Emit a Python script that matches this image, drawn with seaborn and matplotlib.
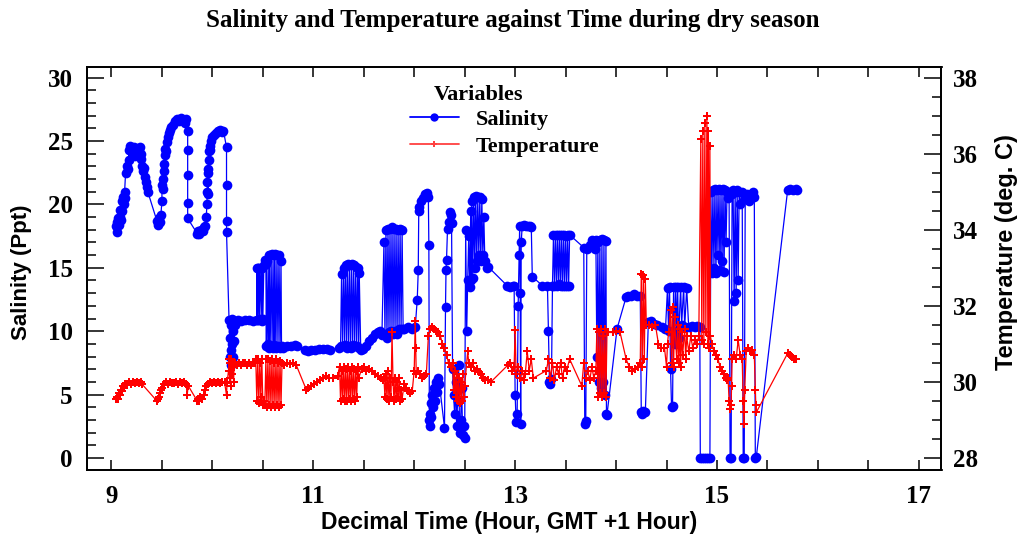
import matplotlib
matplotlib.use("Agg")
import matplotlib.pyplot as plt
import seaborn as sns
from matplotlib.lines import Line2D
from matplotlib.ticker import MultipleLocator

# ---------------- data ----------------
sal_time = [
    9.04, 9.05, 9.05, 9.06, 9.07, 9.08, 9.08, 9.09, 9.10, 9.10, 9.11, 9.12, 9.13, 9.13, 9.14, 9.15,
    9.16, 9.17, 9.17, 9.18, 9.19, 9.20, 9.21, 9.22, 9.23, 9.24, 9.25, 9.26, 9.27, 9.28, 9.29,
    9.29, 9.30, 9.31, 9.32, 9.33, 9.34, 9.35, 9.36, 9.45, 9.46, 9.47, 9.48,
    9.49, 9.50, 9.50, 9.51, 9.51, 9.52, 9.52, 9.53, 9.53, 9.54, 9.55, 9.56, 9.57, 9.58, 9.59, 9.61,
    9.63, 9.65, 9.67, 9.69, 9.71, 9.73, 9.74,
    9.755, 9.755, 9.755, 9.755, 9.755, 9.85, 9.86, 9.87, 9.89, 9.91, 9.92, 9.93,
    9.94, 9.945, 9.95, 9.95, 9.955, 9.96, 9.96, 9.965, 9.97, 9.975, 9.98, 9.99, 10.0, 10.02, 10.04,
    10.06, 10.08, 10.10, 10.11,
    10.14, 10.14, 10.14, 10.14, 10.165,
    10.17, 10.17, 10.18, 10.18, 10.185, 10.19, 10.19, 10.20, 10.20, 10.21, 10.21, 10.22, 10.23,
    10.25, 10.28, 10.32, 10.36, 10.40, 10.44,
    10.44, 10.445, 10.45, 10.46, 10.465, 10.47, 10.48, 10.49, 10.495, 10.50, 10.51, 10.52,
    10.53, 10.535, 10.54, 10.55, 10.56, 10.565, 10.57, 10.58, 10.59, 10.60, 10.61, 10.615, 10.62,
    10.63, 10.64, 10.65, 10.66, 10.67, 10.68, 10.685,
    10.70, 10.74, 10.78, 10.82, 10.84,
    10.92, 10.95, 10.98, 11.02, 11.06, 11.10, 11.14, 11.17,
    11.25, 11.27, 11.28, 11.29, 11.30, 11.31, 11.32, 11.33, 11.34, 11.35, 11.36, 11.37, 11.38,
    11.39, 11.40, 11.41, 11.42, 11.43, 11.44, 11.45, 11.455, 11.47,
    11.49, 11.52, 11.55, 11.58, 11.61, 11.64, 11.66, 11.68,
    11.70, 11.71, 11.72, 11.73, 11.74, 11.75, 11.76, 11.77, 11.78, 11.79, 11.80, 11.81, 11.82,
    11.83, 11.84, 11.85, 11.86, 11.87, 11.88, 11.89, 11.90, 11.94, 11.98, 12.01,
    12.03, 12.04, 12.045, 12.05, 12.07, 12.09, 12.11, 12.13, 12.14, 12.145,
    12.15, 12.155, 12.16, 12.165, 12.17, 12.18, 12.19, 12.20, 12.21, 12.22, 12.23, 12.24, 12.25,
    12.30, 12.31, 12.315, 12.32, 12.33, 12.34, 12.35, 12.36, 12.37,
    12.38, 12.39, 12.40, 12.41, 12.42, 12.43, 12.44, 12.45, 12.46, 12.47, 12.48, 12.49, 12.50,
    12.51, 12.52, 12.53, 12.54, 12.55, 12.56, 12.565, 12.57, 12.58, 12.59, 12.60, 12.61, 12.62,
    12.63, 12.64, 12.65, 12.66, 12.67, 12.68, 12.69, 12.70, 12.72, 12.73,
    12.92, 12.95, 12.98,
    12.99, 13.00, 13.01, 13.02, 13.03, 13.04, 13.045, 13.05, 13.055, 13.06, 13.07, 13.09, 13.11,
    13.13, 13.15, 13.16, 13.17, 13.27,
    13.32, 13.33, 13.34, 13.35, 13.36, 13.37,
    13.38, 13.39, 13.40, 13.41, 13.42, 13.43, 13.44, 13.45, 13.46, 13.47, 13.48, 13.49, 13.50,
    13.51, 13.52, 13.53, 13.54,
    13.68, 13.69, 13.70, 13.71,
    13.74, 13.76, 13.78, 13.79, 13.80, 13.81, 13.82, 13.83, 13.84, 13.85, 13.86, 13.87, 13.88,
    13.89, 13.90, 13.905, 13.91, 14.01,
    14.10, 14.12, 14.15, 14.18, 14.21,
    14.24, 14.25, 14.26, 14.27, 14.28, 14.29,
    14.32, 14.35, 14.38, 14.41,
    14.46, 14.49, 14.51, 14.52, 14.53, 14.54, 14.55, 14.56, 14.57, 14.58, 14.59, 14.60, 14.61,
    14.62, 14.64, 14.65, 14.67, 14.68, 14.70, 14.72, 14.75, 14.78, 14.80,
    14.83, 14.835, 14.85, 14.87, 14.89, 14.91, 14.93,
    14.94, 14.95, 14.96, 14.97, 14.98, 14.99, 15.00, 15.01, 15.02, 15.03, 15.04, 15.05, 15.06,
    15.07, 15.08, 15.09, 15.10, 15.11, 15.12, 15.13, 15.14, 15.15, 15.16, 15.17, 15.18, 15.19,
    15.20, 15.21, 15.22, 15.23, 15.25, 15.26, 15.27, 15.28, 15.30, 15.32, 15.34, 15.36, 15.37,
    15.38, 15.39, 15.70, 15.72, 15.75, 15.78, 15.79,
]
salinity = [
    18.3, 17.8, 18.6, 18.9, 18.4, 19.0, 19.6, 18.8, 19.5, 20.3, 20.6, 20.0, 20.5, 21.0, 22.5, 23.0,
    22.8, 23.5, 24.3, 24.6, 24.2, 24.4, 24.0, 24.5, 23.8, 24.2, 24.4, 24.1, 24.4, 24.5, 24.0,
    23.6, 23.0, 22.6, 22.9, 22.2, 21.8, 21.4, 21.0, 18.7, 18.4, 18.9, 18.6,
    19.2, 20.3, 21.5, 22.0, 21.2, 22.6, 23.2, 23.9, 24.4, 24.2, 24.9, 25.3, 25.6, 25.9, 26.1, 26.3,
    26.6, 26.7, 26.6, 26.8, 26.6, 26.4, 26.7,
    25.8, 24.3, 22.3, 20.1, 18.9, 17.7, 17.9, 17.7, 18.0, 17.9, 18.2, 18.3,
    19.0, 20.0, 21.0, 21.8, 22.5, 20.8, 22.8, 23.5, 24.2, 24.6, 24.3, 25.0, 25.3, 25.5, 25.6,
    25.8, 25.9, 25.7, 25.8,
    24.5, 21.5, 18.7, 17.8, 10.9,
    9.5, 8.0, 7.3, 8.5, 10.5, 11.0, 9.0, 8.0, 10.0, 10.8, 9.2, 10.5, 10.8,
    10.9, 10.8, 10.9, 10.9, 10.8, 10.9,
    15.0, 10.9, 15.0, 10.9, 15.0, 11.0, 15.0, 10.8, 15.0, 11.0, 15.2, 15.6,
    15.3, 8.8, 15.5, 9.0, 16.0, 8.7, 16.0, 8.8, 16.1, 8.7, 16.0, 8.9, 16.1,
    8.7, 16.0, 8.8, 16.0, 8.7, 15.5, 8.8,
    8.7, 8.8, 8.8, 8.9, 8.8,
    8.5, 8.4, 8.5, 8.5, 8.6, 8.6, 8.6, 8.5,
    8.7, 8.8, 14.5, 8.8, 15.0, 8.9, 15.2, 8.7, 15.3, 8.8, 15.2, 8.7, 15.3,
    8.9, 15.2, 8.8, 15.1, 8.8, 15.0, 8.7, 14.6, 8.5,
    8.6, 8.8, 9.2, 9.5, 9.8, 9.9, 10.0, 9.7,
    17.0, 9.8, 18.0, 9.5, 18.1, 9.9, 18.1, 10.0, 18.2, 9.8, 18.1, 10.0, 18.1,
    9.8, 18.0, 10.2, 18.1, 10.2, 18.0, 10.2, 10.2, 10.3, 10.2, 10.3,
    12.5, 14.8, 19.5, 19.8, 20.3, 20.5, 20.8, 20.9, 20.6, 16.8,
    3.0, 2.5, 3.5, 4.3, 3.2, 5.0, 4.0, 5.5, 4.5, 6.0, 5.2, 6.3, 5.8,
    2.4, 11.9, 14.8, 15.6, 18.1, 18.6, 19.4, 19.2, 18.5,
    7.0, 5.0, 3.5, 6.0, 2.5, 4.5, 7.3, 2.0, 3.0, 5.5, 1.8, 2.5, 1.6,
    18.0, 10.0, 14.0, 17.5, 13.5, 19.5, 14.0, 20.3, 14.2, 20.6, 15.0, 20.7, 15.5,
    20.6, 16.0, 20.6, 15.5, 20.4, 16.0, 19.0, 15.5, 15.0, 15.1,
    13.6, 13.5, 13.6,
    13.6, 5.0, 2.8, 3.5, 12.0, 16.0, 18.3, 13.0, 2.7, 17.0, 18.3, 18.4, 18.3,
    18.3, 18.3, 18.2, 14.3, 13.6,
    13.6, 10.0, 6.0, 5.8, 6.2, 13.6,
    17.6, 13.6, 17.6, 13.6, 17.6, 13.7, 17.6, 13.6, 17.6, 13.6, 17.6, 13.6, 17.5,
    13.6, 17.6, 13.6, 17.6,
    16.6, 2.7, 2.9, 16.5,
    16.8, 17.2, 17.1, 16.5, 17.2, 8.0, 17.0, 6.0, 17.2, 5.5, 17.3, 6.0, 17.2,
    5.0, 17.1, 3.5, 3.4, 10.2,
    12.7, 12.8, 12.8, 12.9, 12.8,
    12.8, 3.6, 3.5, 3.7, 3.6, 3.6,
    10.7, 10.8, 10.6, 10.5,
    10.3, 10.2, 13.4, 10.0, 13.5, 7.0, 4.0, 4.1, 13.5, 9.0, 13.5, 10.0, 13.5,
    9.5, 13.5, 10.5, 13.5, 10.3, 13.4, 10.3, 10.4, 10.3, 10.4,
    10.3, 0.0, 0.0, 0.0, 0.0, 0.0, 0.0,
    21.0, 14.6, 21.1, 15.0, 21.2, 14.6, 21.1, 16.0, 21.2, 14.8, 21.1, 15.5, 21.2,
    14.7, 21.1, 17.0, 21.0, 20.5, 21.0, 0.0, 0.0, 20.8, 21.1, 12.4, 21.0, 13.0,
    21.1, 14.0, 21.0, 20.0, 21.0, 0.0, 0.0, 20.5, 20.8, 20.3, 20.8, 21.0, 20.6,
    0.0, 0.1, 21.1, 21.2, 21.1, 21.2, 21.1,
]

temp_time = [
    9.04, 9.05, 9.06, 9.07, 9.08, 9.09, 9.10, 9.11, 9.12, 9.13, 9.15, 9.17, 9.19, 9.21, 9.23, 9.25,
    9.27, 9.29, 9.30,
    9.45, 9.46, 9.47, 9.48, 9.49, 9.50, 9.52, 9.54, 9.56, 9.58, 9.60, 9.62, 9.64, 9.66, 9.68, 9.70,
    9.72, 9.74, 9.75, 9.76,
    9.85, 9.86, 9.87, 9.88, 9.90, 9.92, 9.93, 9.94, 9.96, 9.98, 10.00, 10.02, 10.04, 10.06, 10.08,
    10.10, 10.12, 10.14, 10.145,
    10.16, 10.165, 10.17, 10.175, 10.18, 10.185, 10.19, 10.20, 10.21, 10.215, 10.22, 10.24, 10.26,
    10.28, 10.30, 10.32, 10.34, 10.36, 10.38, 10.40, 10.42,
    10.43, 10.44, 10.45, 10.46, 10.47, 10.48, 10.49, 10.50, 10.51, 10.52, 10.53, 10.54, 10.55,
    10.56, 10.57, 10.58, 10.59, 10.60, 10.61, 10.62, 10.63, 10.64, 10.65, 10.66, 10.67, 10.68, 10.69,
    10.71, 10.74, 10.77, 10.80, 10.83,
    10.93, 10.95, 10.98, 11.01, 11.04, 11.07, 11.10, 11.13, 11.16, 11.20, 11.24,
    11.26, 11.27, 11.28, 11.29, 11.30, 11.31, 11.32, 11.33, 11.34, 11.35, 11.36, 11.37, 11.38,
    11.39, 11.40, 11.41, 11.42, 11.43, 11.44, 11.45,
    11.48, 11.50, 11.52, 11.55, 11.58, 11.61, 11.64, 11.67, 11.69,
    11.70, 11.71, 11.72, 11.73, 11.74, 11.75, 11.76, 11.77, 11.78, 11.79, 11.80, 11.81, 11.82,
    11.83, 11.84, 11.85, 11.86, 11.87, 11.88, 11.90, 11.92, 11.94, 11.96, 11.98, 12.00, 12.01,
    12.015, 12.02, 12.04, 12.06, 12.08, 12.10, 12.12, 12.14, 12.16, 12.18, 12.20, 12.22, 12.24,
    12.26, 12.28, 12.30, 12.32, 12.34, 12.36, 12.38, 12.39, 12.40, 12.41, 12.42, 12.43, 12.44,
    12.45, 12.46, 12.47, 12.48, 12.49, 12.50, 12.53, 12.54, 12.56, 12.58, 12.60, 12.62, 12.64,
    12.66, 12.68, 12.70, 12.73, 12.76,
    12.93, 12.95, 12.97, 12.99, 13.00, 13.01, 13.03, 13.05, 13.07, 13.09, 13.10,
    13.12, 13.14, 13.16, 13.18,
    13.31, 13.33, 13.35, 13.37, 13.39, 13.41, 13.43, 13.45, 13.47, 13.49, 13.51, 13.54,
    13.66, 13.68, 13.70, 13.72, 13.74, 13.76, 13.78, 13.80, 13.81, 13.82, 13.83, 13.84, 13.85,
    13.86, 13.87, 13.88, 13.89, 13.90, 13.91, 13.92, 13.97, 14.00, 14.04,
    14.10, 14.13, 14.16, 14.19, 14.22, 14.24, 14.25, 14.26, 14.27, 14.28, 14.29, 14.30,
    14.33, 14.36, 14.39, 14.42, 14.45, 14.48, 14.50, 14.51,
    14.52, 14.54, 14.55, 14.56, 14.57, 14.58, 14.60, 14.61, 14.62, 14.63, 14.64, 14.65, 14.66,
    14.68, 14.69, 14.70, 14.72, 14.74, 14.76, 14.78, 14.80, 14.82,
    14.84, 14.85, 14.86, 14.87, 14.88, 14.89, 14.90, 14.91, 14.915, 14.92, 14.93, 14.935,
    14.95, 14.97, 14.99, 15.01, 15.03, 15.05, 15.07, 15.09, 15.10, 15.11,
    15.12, 15.13, 15.14, 15.145,
    15.15, 15.17, 15.19, 15.21, 15.23, 15.25,
    15.26, 15.265, 15.27, 15.275,
    15.29, 15.31, 15.33, 15.35, 15.37, 15.38, 15.385, 15.39,
    15.70, 15.72, 15.74, 15.76, 15.78,
]
temperature = [
    29.55, 29.6, 29.55, 29.7, 29.65, 29.8, 29.75, 29.9, 29.85, 29.95, 29.95, 30.0, 29.95, 30.0,
    29.97, 30.0, 29.97, 30.0, 29.95,
    29.5, 29.55, 29.6, 29.7, 29.8, 29.85, 29.95, 30.0, 29.95, 30.0, 29.97, 29.97, 30.0, 29.95,
    30.0, 29.97, 30.0, 29.95, 29.65, 29.9,
    29.5, 29.55, 29.5, 29.6, 29.55, 29.65, 29.8, 29.9, 29.95, 30.0, 29.97, 30.0, 29.97, 30.0,
    29.97, 30.0, 30.0, 29.65, 29.97,
    30.3, 30.6, 30.1, 30.5, 29.9, 30.6, 30.2, 30.5, 30.0, 30.4, 30.5, 30.45, 30.5,
    30.45, 30.5, 30.5, 30.45, 30.5, 30.45, 30.5, 30.5,
    30.6, 29.5, 30.6, 29.45, 30.5, 29.6, 30.6, 29.4, 29.5, 29.4, 30.6, 29.35, 30.6,
    29.4, 30.55, 29.35, 30.6, 29.4, 30.5, 29.35, 30.6, 29.4, 30.5, 29.35, 30.55, 29.4, 30.5,
    30.45, 30.5, 30.47, 30.5, 30.45,
    29.8, 29.85, 29.9, 29.95, 30.0, 30.05, 30.1, 30.15, 30.1, 30.1, 30.15,
    30.4, 29.5, 30.3, 29.55, 30.4, 29.5, 30.35, 29.5, 30.4, 29.55, 30.3, 29.5, 30.4,
    29.55, 30.35, 29.5, 30.3, 29.6, 30.4, 30.1,
    30.35, 30.4, 30.3, 30.35, 30.3, 30.2, 30.15, 30.1, 30.05,
    30.1, 29.6, 30.2, 29.55, 30.3, 29.5, 30.1, 29.6, 31.3, 30.0, 29.5, 30.1, 29.55,
    30.0, 29.6, 30.1, 29.5, 29.8, 29.55, 29.95, 29.85, 29.75, 29.7, 29.75, 30.3, 31.6,
    30.9, 30.2, 30.3, 30.2, 30.1, 30.15, 30.2, 31.2, 31.4, 31.45, 31.4, 31.35, 31.3,
    31.2, 31.0, 30.9, 30.7, 30.5, 30.4, 30.5, 29.8, 30.3, 29.6, 30.2, 29.5, 30.1,
    29.45, 30.0, 29.5, 30.2, 29.6, 29.9, 30.8, 30.5, 30.4, 30.5, 30.3, 30.35, 30.25,
    30.2, 30.1, 30.05, 30.05, 30.0,
    30.45, 30.5, 30.3, 30.4, 31.36, 30.2, 30.4, 30.1, 30.3, 30.05, 30.2,
    30.8, 30.3, 30.6, 30.1,
    30.3, 30.6, 30.1, 30.5, 30.05, 30.4, 30.2, 30.5, 30.1, 30.4, 30.3, 30.6,
    29.9, 30.5, 30.1, 30.3, 30.05, 30.4, 30.1, 30.3, 31.4, 29.6, 31.3, 29.7, 31.4,
    29.6, 31.2, 29.7, 31.4, 29.6, 31.3, 31.3, 31.3, 31.35, 31.3,
    30.6, 30.4, 30.3, 30.35, 30.4, 30.5, 32.85, 30.4, 32.8, 30.6, 32.7, 31.5,
    31.5, 31.45, 31.5, 31.0, 30.9, 30.9, 30.4, 31.0,
    31.3, 31.9, 30.5, 31.96, 30.4, 31.7, 30.6, 31.5, 30.5, 31.4, 30.4, 31.3, 30.7,
    31.4, 30.6, 31.2, 30.8, 31.2, 30.9, 31.1, 31.0, 31.2,
    36.4, 31.1, 36.6, 31.0, 36.8, 31.3, 37.0, 31.0, 36.6, 30.9, 36.2, 31.2,
    31.0, 30.8, 30.7, 30.6, 30.4, 30.3, 30.2, 30.1, 30.05, 30.1,
    29.5, 29.3, 29.4, 29.9,
    30.6, 30.7, 30.6, 31.1, 30.7, 30.6,
    29.5, 28.9, 29.2, 29.8,
    30.8, 30.9, 30.8, 30.85, 30.7, 29.8, 29.4, 29.2,
    30.75, 30.7, 30.65, 30.6, 30.6,
]

x_ticks = [9, 11, 13, 15, 17]
sal_ticks = [0, 5, 10, 15, 20, 25, 30]
temp_ticks = [28, 30, 32, 34, 36, 38]

title = "Salinity and Temperature against Time during dry season"
x_label = "Decimal Time (Hour, GMT +1 Hour)"
y_label = "Salinity (Ppt)"
y2_label = "Temperature (deg. C)"
legend_title = "Variables"
series_names = ["Salinity", "Temperature"]

# ---------------- style ----------------
sns.set_theme(style="white")
plt.rcParams["font.family"] = ["Liberation Serif", "DejaVu Serif"]
plt.rcParams["font.weight"] = "bold"
for k in ("text.color", "axes.labelcolor", "xtick.color", "ytick.color", "axes.edgecolor"):
    plt.rcParams[k] = "black"
SANS = ["Liberation Sans", "DejaVu Sans"]

W, H = 1025, 546
fig = plt.figure(figsize=(W / 100, H / 100), dpi=100)
fig.patch.set_facecolor("white")

L, R, T, B = 86.5, 941.5, 67, 470
ax = fig.add_axes([L / W, 1 - B / H, (R - L) / W, (B - T) / H])

blue = "#0000ff"
red = "#ff0000"

sns.lineplot(x=sal_time, y=salinity, sort=False, estimator=None, color=blue,
             marker="o", markersize=7, markeredgewidth=0, linewidth=0.9, ax=ax)

ax2 = ax.twinx()
sns.lineplot(x=temp_time, y=temperature, sort=False, estimator=None, color=red,
             marker="P", markersize=5.5, markeredgewidth=0, linewidth=0.9, ax=ax2)

# axis ranges: pixel mapping from the reference
ax.set_xlim(8.7525, 17.225)
ax.set_ylim(-0.947, 30.84)
ax2.set_ylim(28 - 0.947 / 3, 28 + 30.84 / 3)

ax.set_xticks(x_ticks)
ax.xaxis.set_minor_locator(MultipleLocator(0.5))
ax.set_yticks(sal_ticks)
ax.yaxis.set_minor_locator(MultipleLocator(1))
ax2.set_yticks(temp_ticks)
ax2.yaxis.set_minor_locator(MultipleLocator(0.5))

for a in (ax, ax2):
    for s in a.spines.values():
        s.set_color("black")
        s.set_linewidth(1.3)
    a.grid(False)

ax.tick_params(axis="x", which="both", direction="in", length=7, width=1.1,
               top=True, bottom=True, labelsize=18, pad=11, colors="black")
ax.tick_params(axis="y", which="major", direction="in", length=12, width=1.1,
               left=True, right=False, labelsize=18, pad=10, colors="black")
ax.tick_params(axis="y", which="minor", direction="in", length=6.5, width=1.1,
               left=True, right=False)
ax2.tick_params(axis="y", which="major", direction="in", length=12, width=1.1,
                right=True, left=False, labelsize=18, pad=8, colors="black")
ax2.tick_params(axis="y", which="minor", direction="in", length=6.5, width=1.1,
                right=True, left=False)

ax.set_xlabel("")
ax.set_ylabel("")
ax2.set_ylabel("")

fig.text(513 / W, 1 - 21 / H, title, ha="center", va="center", fontsize=18,
         fontweight="bold")
fig.text(509 / W, 1 - 522 / H, x_label, ha="center", va="center", fontsize=16.5,
         fontweight="bold", family=SANS)
fig.text(22 / W, 1 - 272 / H, y_label, ha="center", va="center", rotation=90,
         fontsize=16, fontweight="bold", family=SANS)
fig.text(1007 / W, 1 - 252 / H, y2_label, ha="center", va="center", rotation=90,
         fontsize=17, fontweight="bold", family=SANS)

# legend
fig.text(479 / W, 1 - 95 / H, legend_title, ha="center", va="center", fontsize=16,
         fontweight="bold")
handles = [
    Line2D([], [], color=blue, marker="o", markersize=6, markeredgewidth=0, linewidth=1.3),
    Line2D([], [], color="#ff4040", marker="P", markersize=5, markeredgewidth=0, linewidth=1.3),
]
leg = ax2.legend(handles, series_names, loc="upper left",
                 bbox_to_anchor=(410 / W, 1 - 109 / H), bbox_transform=fig.transFigure,
                 frameon=False, numpoints=1, handlelength=2.2,
                 handletextpad=0.75, labelspacing=0.3, borderpad=0, borderaxespad=0,
                 prop={"weight": "bold", "size": 16, "family": ["Liberation Serif"]})

fig.savefig("out.png", dpi=100, facecolor="white")
